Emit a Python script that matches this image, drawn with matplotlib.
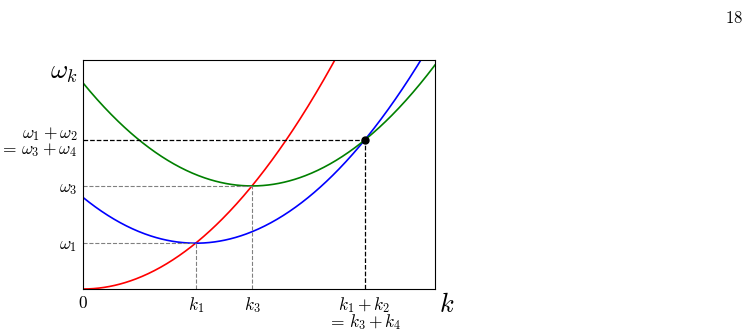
import matplotlib.pyplot as plt
import numpy as np

plt.rcParams['mathtext.fontset'] = 'cm'
plt.rcParams['font.family'] = 'serif'

# dispersion parameters
k1 = 0.8
k3 = 1.2
k_sum = 2.0
k_max = 2.5
w_max = 3.2

k = np.linspace(0, k_max, 400)
w_red = k**2
w_blue = k1**2 + (k - k1)**2
w_green = k3**2 + (k - k3)**2

w1 = k1**2
w3 = k3**2
w_sum = k1**2 + (k_sum - k1)**2

xtick_pos = [0, k1, k3, k_sum]
xtick_lab = ['$0$', '$k_1$', '$k_3$', r'$k_1+k_2$' + '\n' + r'$=\,k_3+k_4$']
ytick_pos = [w1, w3, w_sum]
ytick_lab = [r'$\omega_1$', r'$\omega_3$', r'$\omega_1+\omega_2$' + '\n' + r'$=\,\omega_3+\omega_4$']

fig = plt.figure(figsize=(7.47, 3.35), dpi=100)
ax = fig.add_axes([0.1111, 0.1373, 0.4712, 0.6836])

ax.plot(k, w_red, color='red', lw=1.2)
ax.plot(k, w_blue, color='blue', lw=1.2)
ax.plot(k, w_green, color='green', lw=1.2)

# guide lines
ax.plot([0, k1], [w1, w1], ls='--', color='gray', lw=0.8)
ax.plot([k1, k1], [0, w1], ls='--', color='gray', lw=0.8)
ax.plot([0, k3], [w3, w3], ls='--', color='gray', lw=0.8)
ax.plot([k3, k3], [0, w3], ls='--', color='gray', lw=0.8)
ax.plot([0, k_sum], [w_sum, w_sum], ls='--', color='black', lw=0.9)
ax.plot([k_sum, k_sum], [0, w_sum], ls='--', color='black', lw=0.9)
ax.plot([k_sum], [w_sum], 'o', color='black', ms=5)

ax.set_xlim(0, k_max)
ax.set_ylim(0, w_max)
ax.set_xticks(xtick_pos)
ax.set_xticklabels(xtick_lab, fontsize=12.5)
ax.set_yticks(ytick_pos)
ax.set_yticklabels(ytick_lab, fontsize=12.5)
for lab in ax.get_xticklabels():
    lab.set_linespacing(0.85)
for lab in ax.get_yticklabels():
    lab.set_multialignment('right')
    lab.set_linespacing(0.85)
ax.tick_params(length=0, pad=4)

fig.text(0.104, 0.785, r'$\omega_k$', fontsize=19, ha='right', va='center')
fig.text(0.598, 0.092, r'$k$', fontsize=19, ha='center', va='center')
fig.text(0.994, 0.945, '$18$', fontsize=12, ha='right', va='center')

fig.savefig('out.png', dpi=100)
